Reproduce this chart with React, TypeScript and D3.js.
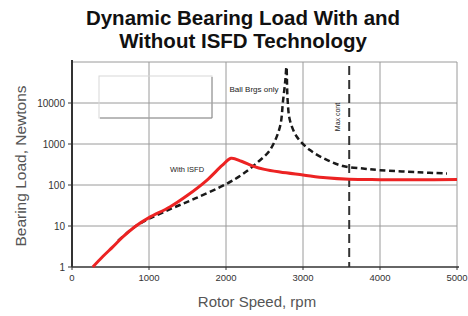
import { useEffect, useRef } from 'react'
import * as d3 from 'd3'

// rpm, Newtons
const withIsfd: [number, number][] = [
  [270, 1], [400, 1.8], [530, 3.1], [660, 5.4], [830, 10], [1000, 16],
  [1270, 29], [1500, 56], [1750, 130], [1950, 300], [2065, 450], [2200, 380],
  [2350, 290], [2500, 240], [2700, 207], [3000, 176], [3300, 150], [3600, 138],
  [4000, 135], [4500, 134], [5000, 137]
]

const ballBrgsOnly: [number, number][] = [
  [600, 4.4], [830, 10], [1000, 15], [1300, 27], [1600, 47], [2000, 105],
  [2200, 175], [2400, 345], [2570, 710], [2700, 2600], [2740, 11000],
  [2770, 35000], [2785, 75000], [2800, 12000], [2830, 3800], [2920, 1500],
  [3090, 710], [3310, 410], [3520, 290], [3800, 250], [4000, 230],
  [4500, 205], [4870, 190]
]

const xTicks = [0, 1000, 2000, 3000, 4000, 5000]
const yTicks = [1, 10, 100, 1000, 10000]
const yGrid = [1, 10, 100, 1000, 10000, 100000]
const maxContRpm = 3600

export default function App() {
  const svgRef = useRef<SVGSVGElement>(null)

  useEffect(() => {
    if (!svgRef.current) return
    const svg = d3.select(svgRef.current)
    svg.selectAll('*').remove()

    const left = 72, right = 457, top = 62, bottom = 267
    const x = d3.scaleLinear().domain([0, 5000]).range([left, right])
    const y = d3.scaleLog().domain([1, 100000]).range([bottom, top])

    svg.append('rect').attr('width', 468).attr('height', 316).attr('fill', '#fff')

    // title, two lines
    const titleStyle = (t: d3.Selection<SVGTextElement, unknown, null, undefined>) => t
      .attr('text-anchor', 'middle')
      .style('font-family', 'Liberation Sans, Arial, sans-serif')
      .style('font-weight', 'bold')
      .style('font-size', '20.5px')
      .attr('fill', '#111')
    svg.append('text').call(titleStyle)
      .attr('x', 243).attr('y', 24.5).text('Dynamic Bearing Load With and')
    svg.append('text').call(titleStyle)
      .attr('x', 243).attr('y', 48).text('Without ISFD Technology')

    // grid
    const grid = svg.append('g').attr('stroke', '#9a9a9a').attr('stroke-width', 1)
    grid.selectAll('line.v')
      .data(xTicks.slice(1))
      .enter().append('line')
      .attr('x1', d => x(d)).attr('x2', d => x(d))
      .attr('y1', top).attr('y2', bottom)
    grid.selectAll('line.h')
      .data(yGrid.slice(1))
      .enter().append('line')
      .attr('x1', left).attr('x2', right)
      .attr('y1', d => y(d)).attr('y2', d => y(d))

    // legend box (empty)
    svg.append('rect')
      .attr('x', 99).attr('y', 76).attr('width', 113).attr('height', 42)
      .attr('fill', 'none').attr('stroke', '#d8d8d8')
    svg.append('path')
      .attr('d', 'M212,77 L212,118 L100,118')
      .attr('fill', 'none').attr('stroke', '#888').attr('stroke-width', 1)

    // axes
    const axisColor = '#333'
    svg.append('line')
      .attr('x1', left).attr('x2', left).attr('y1', top - 2).attr('y2', bottom)
      .attr('stroke', axisColor).attr('stroke-width', 2)
    svg.append('line')
      .attr('x1', left).attr('x2', right + 2).attr('y1', bottom).attr('y2', bottom)
      .attr('stroke', axisColor).attr('stroke-width', 1.5)

    const tickFont = 'Liberation Sans, Arial, sans-serif'
    svg.append('g').selectAll('line')
      .data(xTicks)
      .enter().append('line')
      .attr('x1', d => x(d)).attr('x2', d => x(d))
      .attr('y1', bottom).attr('y2', bottom + 3)
      .attr('stroke', axisColor)
    svg.append('g').selectAll('text')
      .data(xTicks)
      .enter().append('text')
      .attr('x', d => x(d)).attr('y', bottom + 14)
      .attr('text-anchor', 'middle')
      .style('font-family', tickFont).style('font-size', '9.5px')
      .attr('fill', '#333')
      .text(d => String(d))

    svg.append('g').selectAll('line')
      .data(yTicks)
      .enter().append('line')
      .attr('x1', left - 4).attr('x2', left)
      .attr('y1', d => y(d)).attr('y2', d => y(d))
      .attr('stroke', axisColor)
    svg.append('g').selectAll('text')
      .data(yTicks)
      .enter().append('text')
      .attr('x', left - 7).attr('y', d => y(d) + 3.5)
      .attr('text-anchor', 'end')
      .style('font-family', tickFont).style('font-size', '10px')
      .attr('fill', '#333')
      .text(d => String(d))

    // axis titles
    svg.append('text')
      .attr('x', 257).attr('y', 307)
      .attr('text-anchor', 'middle')
      .style('font-family', tickFont).style('font-size', '15px')
      .attr('fill', '#555')
      .text('Rotor Speed, rpm')
    svg.append('text')
      .attr('transform', 'translate(26,166) rotate(-90)')
      .attr('text-anchor', 'middle')
      .style('font-family', tickFont).style('font-size', '15.5px')
      .attr('fill', '#555')
      .text('Bearing Load, Newtons')

    // max cont line
    svg.append('line')
      .attr('x1', x(maxContRpm)).attr('x2', x(maxContRpm))
      .attr('y1', top + 4).attr('y2', bottom)
      .attr('stroke', '#333').attr('stroke-width', 2)
      .attr('stroke-dasharray', '9,5')

    const line = d3.line<[number, number]>()
      .x(d => x(d[0]))
      .y(d => y(d[1]))
      .curve(d3.curveCatmullRom.alpha(0.5))

    svg.append('path')
      .datum(ballBrgsOnly)
      .attr('d', line)
      .attr('fill', 'none')
      .attr('stroke', '#1a1a1a')
      .attr('stroke-width', 2.5)
      .attr('stroke-dasharray', '6,3.5')

    svg.append('path')
      .datum(withIsfd)
      .attr('d', line)
      .attr('fill', 'none')
      .attr('stroke', '#ec2323')
      .attr('stroke-width', 3)

    // annotations
    svg.append('text')
      .attr('x', 254).attr('y', 92)
      .attr('text-anchor', 'middle')
      .style('font-family', tickFont).style('font-size', '8px')
      .attr('fill', '#222')
      .text('Ball Brgs only')
    svg.append('text')
      .attr('x', 187).attr('y', 171.5)
      .attr('text-anchor', 'middle')
      .style('font-family', tickFont).style('font-size', '7.5px')
      .attr('fill', '#222')
      .text('With ISFD')
    svg.append('text')
      .attr('transform', 'translate(340,117) rotate(-90)')
      .attr('text-anchor', 'middle')
      .style('font-family', tickFont).style('font-size', '7px')
      .attr('fill', '#222')
      .text('Max cont')
  }, [])

  return (
    <svg
      ref={svgRef}
      width={468}
      height={316}
      style={{ position: 'absolute', left: 0, top: 0 }}
    />
  )
}
